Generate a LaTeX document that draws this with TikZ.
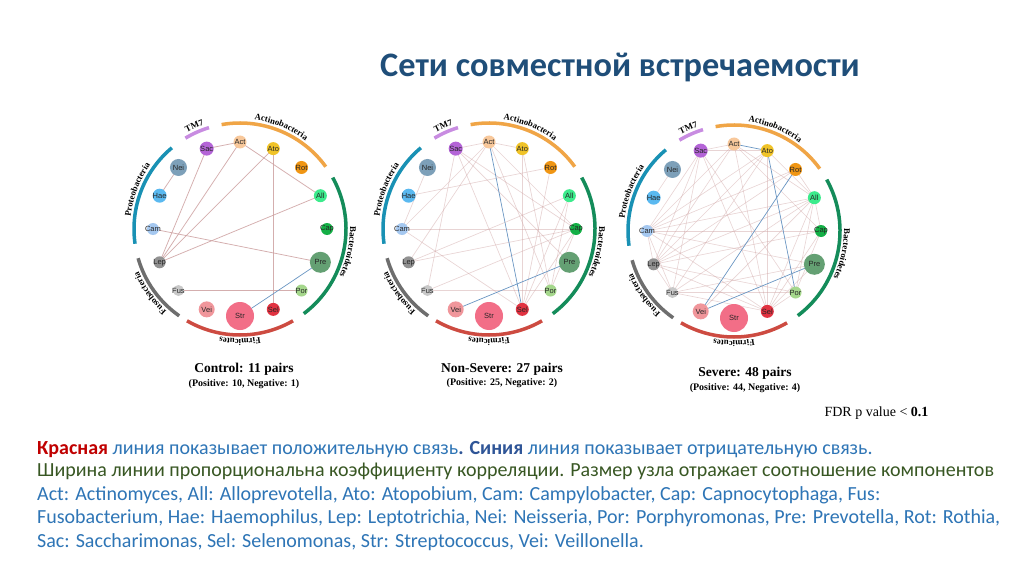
\documentclass[tikz,border=0pt]{standalone}
\usepackage{fontspec}
\setmainfont{Liberation Serif}
\newfontfamily\calfont{Carlito}
\newfontfamily\arfont{Liberation Sans}
\usetikzlibrary{decorations.text}
\pgfdeclarelayer{bg}
\pgfsetlayers{bg,main}
% phylum colours
\definecolor{pTM}{RGB}{200,140,225}
\definecolor{pAct}{RGB}{240,165,70}
\definecolor{pBac}{RGB}{20,140,90}
\definecolor{pFir}{RGB}{205,75,65}
\definecolor{pFus}{RGB}{110,110,110}
\definecolor{pPro}{RGB}{25,145,180}
% node colours
\definecolor{kSac}{RGB}{180,100,215}
\definecolor{kAct}{RGB}{248,200,155}
\definecolor{kAto}{RGB}{240,195,40}
\definecolor{kRot}{RGB}{240,150,20}
\definecolor{kAll}{RGB}{60,235,140}
\definecolor{kCap}{RGB}{20,175,70}
\definecolor{kPre}{RGB}{100,160,115}
\definecolor{kPor}{RGB}{165,215,140}
\definecolor{kSel}{RGB}{225,50,65}
\definecolor{kStr}{RGB}{242,110,135}
\definecolor{kVei}{RGB}{240,150,155}
\definecolor{kFus}{RGB}{200,200,200}
\definecolor{kLep}{RGB}{145,145,145}
\definecolor{kCam}{RGB}{165,200,240}
\definecolor{kHae}{RGB}{90,185,240}
\definecolor{kNei}{RGB}{125,160,185}
% edges and text
\definecolor{posc}{RGB}{205,160,160}
\definecolor{negc}{RGB}{105,150,195}
\definecolor{ttl}{RGB}{31,78,121}
\definecolor{dred}{RGB}{192,0,0}
\definecolor{tblue}{RGB}{46,117,182}
\definecolor{dblue}{RGB}{47,85,151}
\definecolor{dgreen}{RGB}{56,87,35}
\tikzset{
  bact/.style={circle, inner sep=0pt, draw=none},
  blab/.style={font=\arfont\fontsize{7.5}{7.5}\selectfont, text=black!85, inner sep=0pt},
  phy/.style={line width=3.5pt, line cap=butt},
  poscon/.style={draw=posc, line width=0.75pt, draw opacity=0.85},
  posns/.style={draw=posc, line width=0.65pt, draw opacity=0.45},
  possev/.style={draw=posc, line width=0.6pt, draw opacity=0.45},
  negl/.style={draw=negc, line width=0.7pt},
  body/.style={anchor=base west, inner sep=0pt, font=\calfont\fontsize{20}{20}\selectfont},
  captop/.style={anchor=base, font=\bfseries\fontsize{13.5}{13.5}\selectfont},
  capsub/.style={anchor=base, font=\bfseries\fontsize{10}{10}\selectfont},
}
\newcommand\lblfont{\bfseries\fontsize{8.8}{8.8}\selectfont}
\newcommand\phylum[4]{%
  \draw[phy, #1] (#2:106) arc[start angle=#2, end angle=#3, radius=106];
  \path[decorate, decoration={text along path, text align=center, text={|\lblfont|#4}}]
     (#2:110) arc[start angle=#2, end angle=#3, radius=110];
}
\newcommand\netnodes[1]{%
  \phylum{pTM}{121}{107}{TM7}
  \phylum{pAct}{100}{36}{Actinobacteria}
  \phylum{pBac}{29}{-53}{Bacteroidetes}
  \phylum{pFir}{300}{240}{Firmicutes}
  \phylum{pFus}{235}{196}{Fusobacteria}
  \phylum{pPro}{188}{130}{Proteobacteria}
  \foreach \nm/\an/\rr in {Cap/0/6, All/22.5/6.5, Rot/45/6.5, Ato/67.5/6.5, Act/90/6.5,
     Sac/112.5/7, Nei/135/8.5, Hae/157.5/7, Cam/180/6, Lep/202.5/6, Fus/225/5.5,
     Vei/247.5/8, Str/270/14, Sel/292.5/6.5, Por/315/6, Pre/337.5/10.5}{
    \node[bact, minimum size=2*\rr, fill=k\nm] (#1\nm) at (\an:87) {};
    \node[blab] (#1\nm t) at (\an:87) {\nm};
  }%
}
\begin{document}
\begin{tikzpicture}[x=1pt,y=1pt]
\begin{pgfonlayer}{bg}
\fill[white] (0,0) rectangle (1024,574);
\end{pgfonlayer}
\useasboundingbox (0,0) rectangle (1024,574);

\node[font=\calfont\bfseries\fontsize{34.3}{34.3}\selectfont, text=ttl] (title) at (620,507) {Сети совместной встречаемости};

% ---------- Control ----------
\begin{scope}[shift={(240,345)}]
  \netnodes{c}
  \begin{pgfonlayer}{bg}
    \foreach \a/\b in {Sac/Act, Nei/Hae, Sac/Lep, Act/Lep, Ato/Lep, All/Lep, Act/All,
       Cam/Pre, Ato/Sel, Fus/Por}
      \draw[poscon] (c\a.center) -- (c\b.center);
    \draw[negl] (cPre.center) -- (cStr.center);
  \end{pgfonlayer}
\end{scope}

% ---------- Non-Severe ----------
\begin{scope}[shift={(489,345)}]
  \netnodes{n}
  \begin{pgfonlayer}{bg}
    \foreach \a/\b in {Sac/Act, Act/Ato, Sac/Sel, Sac/Cap, Sac/Pre, Act/Cam, Act/Lep,
       Act/Cap, Act/Por, Hae/Rot, Nei/Cam, Cam/Cap, Cam/Sel, Lep/All, Fus/Cap, Fus/Por,
       Ato/Sel, Ato/Por, All/Sel, Cap/Sel, All/Por, Cap/Por, Sac/Fus, Rot/Sel, Lep/Cap}
      \draw[posns] (n\a.center) -- (n\b.center);
    \draw[negl] (nAct.center) -- (nSel.center);
    \draw[negl] (nVei.center) -- (nPre.center);
  \end{pgfonlayer}
\end{scope}

% ---------- Severe ----------
\begin{scope}[shift={(734,343)}]
  \netnodes{s}
  \begin{pgfonlayer}{bg}
    \foreach \a/\b in {Nei/Hae, Sac/Act, Sac/Ato, Sac/Sel, Sac/Por, Sac/Cam, Sac/Lep,
       Sac/Fus, Act/Cam, Act/Lep, Act/All, Act/Cap, Act/Sel, Ato/Cam, Ato/Lep, Ato/All,
       Ato/Sel, Ato/Fus, Rot/Cam, Rot/Lep, All/Cam, All/Lep, All/Fus, All/Sel, All/Por,
       All/Vei, All/Cap, Cap/Cam, Cap/Sel, Cap/Por, Cap/Lep, Pre/Cam, Pre/Fus, Pre/Sel,
       Por/Fus, Por/Sel, Cam/Sel, Cam/Lep, Cam/Fus, Lep/Fus, Lep/Sel, Fus/Sel, Lep/Por,
       Rot/All}
      \draw[possev] (s\a.center) -- (s\b.center);
    \foreach \a/\b in {Act/Ato, Ato/Por, Rot/Vei, Vei/Pre}
      \draw[negl] (s\a.center) -- (s\b.center);
  \end{pgfonlayer}
\end{scope}

% ---------- captions ----------
\node[captop] (cap1) at (244,202) {Control: 11 pairs};
\node[capsub] (sub1) at (244,188) {(Positive: 10, Negative: 1)};
\node[captop] (cap2) at (502,202) {Non-Severe: 27 pairs};
\node[capsub] (sub2) at (502,189) {(Positive: 25, Negative: 2)};
\node[captop] (cap3) at (745,198) {Severe: 48 pairs};
\node[capsub] (sub3) at (745,184) {(Positive: 44, Negative: 4)};
\node[anchor=base east, font=\fontsize{14}{14}\selectfont] (fdr) at (932,158) {FDR p value < \textbf{0.1}};

% ---------- text ----------
\node[body] (l1) at (37,120) {\textcolor{dred}{\bfseries Красная} \textcolor{tblue}{линия показывает положительную связь}\textcolor{dblue}{\bfseries. Синия} \textcolor{tblue}{линия показывает отрицательную связь.}};
\node[body, text=dgreen] (l2) at (37,98) {Ширина линии пропорциональна коэффициенту корреляции. Размер узла отражает соотношение компонентов};
\node[body, text=tblue] (l3) at (37,74) {Act: Actinomyces, All: Alloprevotella, Ato: Atopobium, Cam: Campylobacter, Cap: Capnocytophaga, Fus:};
\node[body, text=tblue] (l4) at (37,51) {Fusobacterium, Hae: Haemophilus, Lep: Leptotrichia, Nei: Neisseria, Por: Porphyromonas, Pre: Prevotella, Rot: Rothia,};
\node[body, text=tblue] (l5) at (37,27) {Sac: Saccharimonas, Sel: Selenomonas, Str: Streptococcus, Vei: Veillonella.};
\end{tikzpicture}
\end{document}
